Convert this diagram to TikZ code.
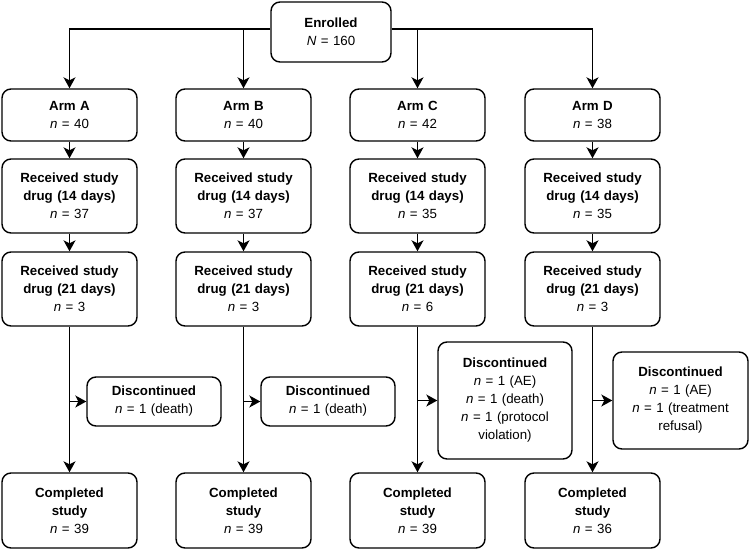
\documentclass[tikz,border=0pt]{standalone}
\usepackage{fontspec}
\setmainfont{Liberation Sans}
\usetikzlibrary{arrows.meta,positioning}

\tikzset{
  box/.style={draw,line width=1.4pt,rounded corners=9pt,align=center,
    text width=125pt,inner xsep=5pt,inner ysep=0pt,font=\fontsize{13.3}{18}\selectfont},
  flow/.style={line width=1.4pt,-{Stealth[length=11pt,width=12pt,inset=3pt]}},
}

\begin{document}
\begin{tikzpicture}[x=1pt,y=-1pt]
  \useasboundingbox (0,0) rectangle (750,549);
  \node[box,text width=110pt,minimum height=60pt] (enr) at (331,32) {\textbf{Enrolled}\\\textit{N} = 160};
  \foreach \x/\a/\n/\p/\q/\r [count=\i] in {69.5/A/40/37/3/39,243.5/B/40/37/3/39,417.5/C/42/35/6/39,592.5/D/38/35/3/36}{
    \node[box,minimum height=52pt] (arm\i) at (\x,115) {\textbf{Arm \a}\\\textit{n} = \n};
    \node[box,minimum height=74pt] (rxa\i) at (\x,196) {\textbf{Received study}\\\textbf{drug (14 days)}\\\textit{n} = \p};
    \node[box,minimum height=74pt] (rxb\i) at (\x,289) {\textbf{Received study}\\\textbf{drug (21 days)}\\\textit{n} = \q};
    \node[box,minimum height=75pt] (done\i) at (\x,510.5) {\textbf{Completed}\\\textbf{study}\\\textit{n} = \r};
    \draw[flow] (arm\i) -- (rxa\i);
    \draw[flow] (rxa\i) -- (rxb\i);
    \draw[flow] (rxb\i) -- (done\i);
  }
  % discontinued boxes
  \node[box,text width=124pt,minimum height=49pt] (stop1) at (154,401.5) {\textbf{Discontinued}\\\textit{n} = 1 (death)};
  \node[box,text width=124pt,minimum height=49pt] (stop2) at (328,401.5) {\textbf{Discontinued}\\\textit{n} = 1 (death)};
  \node[box,text width=124pt,minimum height=117pt] (stop3) at (505,400.5) {\textbf{Discontinued}\\\textit{n} = 1 (AE)\\\textit{n} = 1 (death)\\\textit{n} = 1 (protocol\\violation)};
  \node[box,minimum height=97pt] (stop4) at (680.5,400.5) {\textbf{Discontinued}\\\textit{n} = 1 (AE)\\\textit{n} = 1 (treatment\\refusal)};
  \foreach \i in {1,...,4}
    \draw[flow] (stop\i.west -| rxb\i.south) -- (stop\i.west);
  % enrolment split
  \draw[flow] ([yshift=3pt]enr.west) -| (arm1.north);
  \draw[flow] ([yshift=3pt]enr.west -| arm2.north) -- (arm2.north);
  \draw[flow] ([yshift=3pt]enr.east) -| (arm4.north);
  \draw[flow] ([yshift=3pt]enr.east -| arm3.north) -- (arm3.north);
\end{tikzpicture}
\end{document}
